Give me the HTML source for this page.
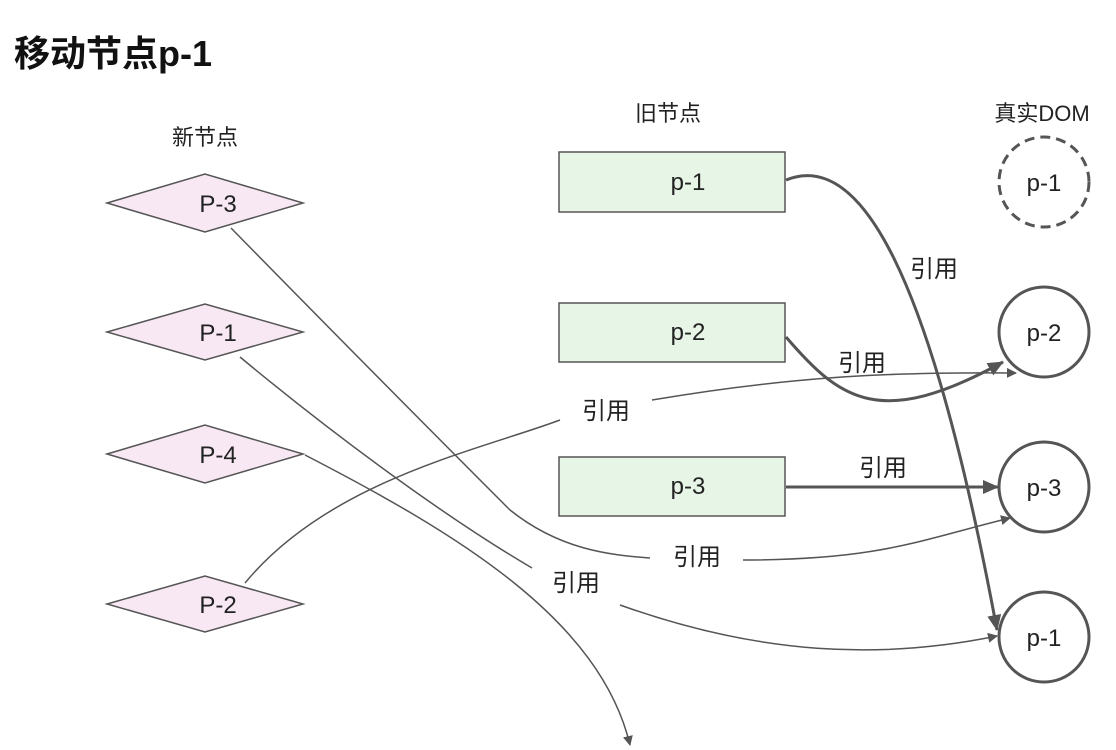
<!DOCTYPE html>
<html><head><meta charset="utf-8"><style>
body{margin:0;background:#fff;}
svg{display:block;font-family:"Liberation Sans","Noto Sans CJK SC",sans-serif;}
</style></head><body>
<svg width="1116" height="750" viewBox="0 0 1116 750">
<defs>
<marker id="a" markerWidth="10" markerHeight="10" refX="9" refY="5" orient="auto" markerUnits="userSpaceOnUse"><path d="M0,0 L10,5 L0,10z" fill="#555"/></marker>
<marker id="b" markerWidth="16" markerHeight="14" refX="15" refY="7" orient="auto" markerUnits="userSpaceOnUse"><path d="M0,0 L16,7 L0,14z" fill="#555"/></marker>
</defs>
<text x="14" y="66" font-size="36" font-weight="bold" fill="#111">移动节点p-1</text>
<g font-size="22" fill="#222" text-anchor="middle">
<text x="205" y="145">新节点</text>
<text x="668" y="121">旧节点</text>
<text x="1042" y="121">真实DOM</text>
</g>
<g fill="#f7e8f4" stroke="#555" stroke-width="1.5">
<polygon points="107,203 205,174 303,203 205,232"/>
<polygon points="107,332 205,304 303,332 205,360"/>
<polygon points="107,454 205,425 303,454 205,483"/>
<polygon points="107,604 205,576 303,604 205,632"/>
</g>
<g fill="#e7f5e6" stroke="#555" stroke-width="1.5">
<rect x="559" y="152" width="226" height="60"/>
<rect x="559" y="303" width="226" height="59"/>
<rect x="559" y="457" width="226" height="59"/>
</g>
<g fill="#fff" stroke="#555" stroke-width="3">
<circle cx="1044" cy="182" r="45" stroke-dasharray="10,6"/>
<circle cx="1044" cy="332" r="45"/>
<circle cx="1044" cy="487" r="45"/>
<circle cx="1044" cy="637" r="45"/>
</g>
<g font-size="24" fill="#222" text-anchor="middle">
<text x="218" y="212">P-3</text><text x="218" y="341">P-1</text><text x="218" y="463">P-4</text><text x="218" y="613">P-2</text>
<text x="688" y="190">p-1</text><text x="688" y="340">p-2</text><text x="688" y="494">p-3</text>
<text x="1044" y="191">p-1</text><text x="1044" y="341">p-2</text><text x="1044" y="496">p-3</text><text x="1044" y="646">p-1</text>
</g>
<g fill="none" stroke="#555" stroke-width="3">
<path d="M786,180 C860,150 930,270 997,630" marker-end="url(#b)"/>
<path d="M786,337 C840,400 880,430 1003,362" marker-end="url(#b)"/>
<path d="M786,487 L998,487" marker-end="url(#b)"/>
</g>
<g fill="none" stroke="#555" stroke-width="1.5">
<path d="M245,583 C330,480 480,450 560,420"/>
<path d="M652,400 C800,375 900,372 1016,373" marker-end="url(#a)"/>
<path d="M231,228 C380,380 470,470 510,510 C560,550 610,555 650,558"/>
<path d="M743,560 C880,560 920,540 1010,518" marker-end="url(#a)"/>
<path d="M240,357 C340,440 450,520 532,568"/>
<path d="M620,605 C760,655 880,660 997,636" marker-end="url(#a)"/>
<path d="M305,455 C460,535 600,620 630,745" marker-end="url(#a)"/>
</g>
<g font-size="24" fill="#222" text-anchor="middle">
<text x="934" y="277">引用</text>
<text x="862" y="371">引用</text>
<text x="883" y="476">引用</text>
<text x="606" y="419">引用</text>
<text x="697" y="565">引用</text>
<text x="576" y="591">引用</text>
</g>
</svg>
</body></html>
